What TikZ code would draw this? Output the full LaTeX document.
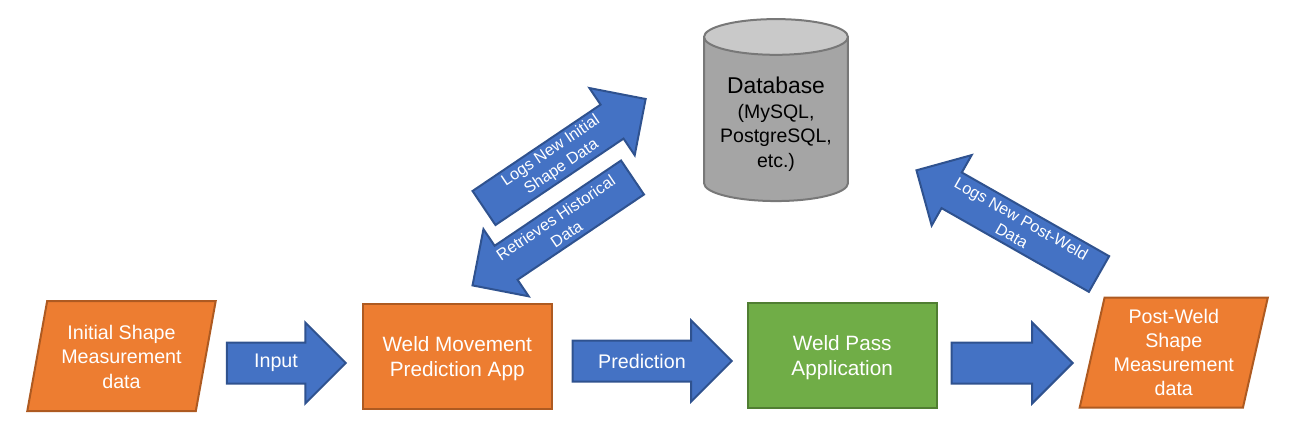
\documentclass[tikz,border=0pt]{standalone}
\usepackage{fontspec}
\setmainfont{Liberation Sans}
\usetikzlibrary{shapes.geometric,shapes.arrows,positioning}
\definecolor{weldorange}{HTML}{ED7D31}
\definecolor{weldorangeline}{HTML}{AE5A21}
\definecolor{weldgreen}{HTML}{70AD47}
\definecolor{weldgreenline}{HTML}{507E32}
\definecolor{weldblue}{HTML}{4472C4}
\definecolor{weldblueline}{HTML}{2F528F}
\definecolor{dbgray}{HTML}{A5A5A5}
\definecolor{dbtop}{HTML}{C9C9C9}
\definecolor{dbline}{HTML}{787878}
% shaft height is fixed by the box: width, text
\newcommand{\flowtext}[2]{\parbox[c][0.78cm][c]{#1}{\centering #2}}

\begin{document}
\begin{tikzpicture}[
  x=0.02cm, y=-0.02cm,
  procbox/.style={rectangle, draw=weldorangeline, fill=weldorange, line width=0.04cm,
              minimum width=3.78cm, minimum height=2.1cm, outer sep=0pt, inner sep=0pt,
              align=center, text=white, font=\fontsize{11.8}{14.6}\selectfont},
  databox/.style={trapezium, trapezium left angle=76, trapezium right angle=104,
              trapezium stretches=true, draw=weldorangeline, fill=weldorange, line width=0.04cm,
              minimum width=3.78cm, minimum height=2.2cm, outer sep=0pt, inner sep=0pt,
              align=center, text=white, font=\fontsize{11.2}{13.7}\selectfont},
  flow/.style={single arrow, draw=weldblueline, fill=weldblue, line width=0.04cm,
              single arrow head extend=0.4cm, single arrow tip angle=90,
              outer sep=0pt, inner sep=0pt,
              text=white, font=\fontsize{11.2}{13.7}\selectfont},
  diagflow/.style={flow, font=\fontsize{9.2}{11}\selectfont}
]
\useasboundingbox (0,0) rectangle (1301,434);

% Main row
\node[databox] (init) at (121.5,356) {\rule{0pt}{9.2pt}Initial Shape\\Measurement\\data};
\node[flow, minimum height=2.38cm, right=0.42cm of init, yshift=-0.14cm] (input) {\flowtext{1.2cm}{Input}};
\node[procbox, right=0.34cm of input, yshift=0.13cm] (app) {\rule{0pt}{11pt}Weld Movement\\Prediction App};
\node[flow, minimum height=3.18cm, right=0.42cm of app, yshift=-0.09cm] (predict) {\flowtext{2cm}{Prediction}};
\node[procbox, draw=weldgreenline, fill=weldgreen, right=0.32cm of predict, yshift=0.11cm] (pass) {\rule{0pt}{11pt}Weld Pass\\Application};
\node[flow, minimum height=2.42cm, right=0.3cm of pass, yshift=-0.15cm] (output) {\flowtext{1.2cm}{}};
\node[databox, right=0.39cm of output, yshift=0.21cm] (post) {Post-Weld\\Shape\\Measurement\\data};

% Database
\node[cylinder, shape border rotate=90, aspect=0.32, draw=dbline, line width=0.04cm,
      cylinder uses custom fill, cylinder body fill=dbgray, cylinder end fill=dbtop,
      minimum width=2.88cm, minimum height=3.64cm, outer sep=0pt, inner sep=0pt,
      align=center, font=\fontsize{11.1}{14}\selectfont] (db) at (776,119.5)
      {\rule{0pt}{15pt}{\fontsize{13}{16}\selectfont Database}\\(MySQL,\\PostgreSQL,\\etc.)};

% Arrows to and from the database
\node[diagflow, minimum height=3.9cm, rotate=34, anchor=tail] (logsinit) at (484,208) {\flowtext{3cm}{Logs New Initial\\Shape Data}};
\node[diagflow, minimum height=3.86cm, shape border rotate=180, rotate=34, anchor=tail] (retrieve) at (632.5,177.5) {\flowtext{3cm}{Retrieves Historical\\Data}};
\node[diagflow, minimum height=4.2cm, shape border rotate=180, rotate=-29.6, anchor=tail] (logspost) at (1099,274) {\flowtext{3.2cm}{Logs New Post-Weld\\Data}};

\end{tikzpicture}
\end{document}
